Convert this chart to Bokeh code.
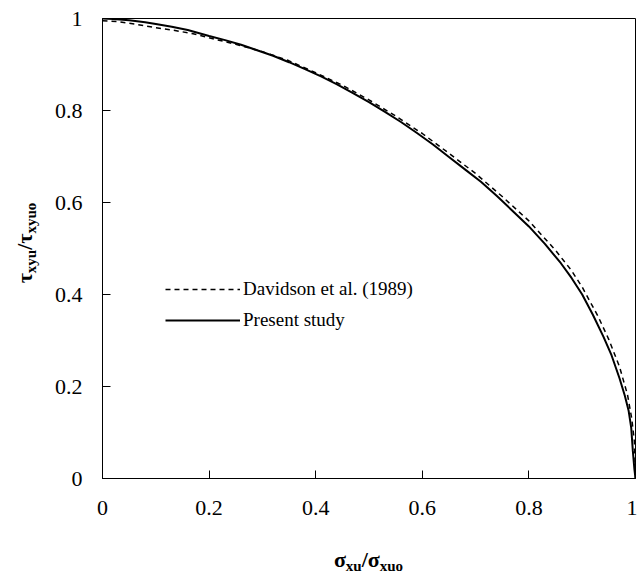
from bokeh.plotting import figure
from bokeh.models import Legend, LegendItem, FixedTicker, Range1d, Div
from bokeh.layouts import row, column
from bokeh.embed import file_html
from bokeh.resources import INLINE

# ---- data ----
x_ticks = [0, 0.2, 0.4, 0.6, 0.8, 1]
x_tick_labels = ["0", "0.2", "0.4", "0.6", "0.8", "1"]
y_ticks = [0, 0.2, 0.4, 0.6, 0.8, 1]
y_tick_labels = ["0", "0.2", "0.4", "0.6", "0.8", "1"]

present_x = [0.0, 0.02, 0.05, 0.08, 0.10, 0.13, 0.16, 0.20, 0.23, 0.26, 0.29,
             0.32, 0.35, 0.38, 0.41, 0.44, 0.47, 0.50, 0.53, 0.56, 0.59, 0.62,
             0.65, 0.68, 0.71, 0.74, 0.77, 0.80, 0.83, 0.86, 0.88, 0.90, 0.92,
             0.94, 0.955, 0.97, 0.98, 0.987, 0.992, 0.995, 0.998, 1.0]
present_y = [1.0, 0.999, 0.996, 0.992, 0.988, 0.982, 0.975, 0.962, 0.953, 0.943, 0.931,
             0.919, 0.905, 0.890, 0.874, 0.857, 0.838, 0.818, 0.797, 0.775, 0.751, 0.726,
             0.699, 0.672, 0.645, 0.614, 0.581, 0.548, 0.510, 0.468, 0.436, 0.400, 0.356,
             0.308, 0.268, 0.218, 0.180, 0.148, 0.110, 0.060, 0.020, 0.0]

davidson_x = [0.0, 0.03, 0.06, 0.10, 0.13, 0.17, 0.20, 0.25, 0.30, 0.35, 0.40,
              0.45, 0.50, 0.55, 0.60, 0.65, 0.70, 0.75, 0.80, 0.85, 0.88, 0.90,
              0.93, 0.95, 0.97, 0.985, 0.993, 0.998, 1.0]
davidson_y = [0.995, 0.993, 0.988, 0.980, 0.975, 0.967, 0.958, 0.944, 0.928, 0.908, 0.882,
              0.855, 0.823, 0.788, 0.750, 0.707, 0.663, 0.613, 0.560, 0.496, 0.452, 0.416,
              0.352, 0.302, 0.243, 0.182, 0.130, 0.080, 0.0]

legend_labels = ["Davidson et al. (1989)", "Present study"]

FONT = "Liberation Serif"

p = figure(frame_width=533, frame_height=460,
           min_border_left=52, min_border_right=2, min_border_top=18, min_border_bottom=68,
           x_range=Range1d(0, 1), y_range=Range1d(0, 1),
           output_backend="svg", toolbar_location=None)

p.xgrid.visible = False
p.ygrid.visible = False
p.outline_line_color = "black"
p.outline_line_width = 1
p.background_fill_color = "white"
p.border_fill_color = "white"

for ax, ticks, labels in ((p.xaxis, x_ticks, x_tick_labels), (p.yaxis, y_ticks, y_tick_labels)):
    ax.ticker = FixedTicker(ticks=ticks)
    ax.major_label_overrides = {t: l for t, l in zip(ticks, labels)}
    ax.minor_tick_line_color = None
    ax.major_tick_in = 8
    ax.major_tick_out = 0
    ax.major_tick_line_color = "black"
    ax.axis_line_color = "black"
    ax.axis_line_width = 1
    ax.major_label_text_font = FONT
    ax.major_label_text_font_size = "22px"
    ax.major_label_text_color = "black"
    ax.axis_label = None

p.xaxis.major_label_standoff = 22
p.yaxis.major_label_standoff = 20

r_p = p.line(present_x, present_y, line_color="black", line_width=2)
r_d = p.line(davidson_x, davidson_y, line_color="black", line_width=1.5, line_dash="5 4")

legend = Legend(items=[LegendItem(label=legend_labels[0], renderers=[r_d]),
                       LegendItem(label=legend_labels[1], renderers=[r_p])],
                location=(63, 147), glyph_width=75, glyph_height=20, label_height=20,
                label_standoff=3, spacing=9, padding=0, margin=0,
                label_text_font=FONT, label_text_font_size="19px", label_text_color="black",
                border_line_color=None, background_fill_alpha=0)
p.add_layout(legend)

# axis titles with subscripts as real HTML text
TITLE_STYLE = ("font-family:'Liberation Serif'; font-weight:bold; font-size:22px; "
               "color:black; white-space:nowrap; line-height:22px;")
SUB = "font-size:15px; vertical-align:-4px; line-height:0;"

x_title = Div(
    text=(f"<div style=\"width:533px; margin-left:52px; padding-top:3px; text-align:center; {TITLE_STYLE}\">"
          f"σ<span style=\"{SUB}\">xu</span>/σ<span style=\"{SUB}\">xuo</span></div>"),
    width=587, height=35, margin=0)

y_title = Div(
    text=(f"<div style=\"width:50px; height:486px; display:flex; align-items:center; "
          f"justify-content:center;\">"
          f"<span style=\"display:inline-block; transform:rotate(-90deg); {TITLE_STYLE}\">"
          f"τ<span style=\"{SUB}\">xyu</span>/τ<span style=\"{SUB}\">xyuo</span></span></div>"),
    width=50, height=581, margin=0)

layout = row(y_title, column(p, x_title, spacing=0), spacing=0)

open("out.html", "w").write(file_html(layout, INLINE))
